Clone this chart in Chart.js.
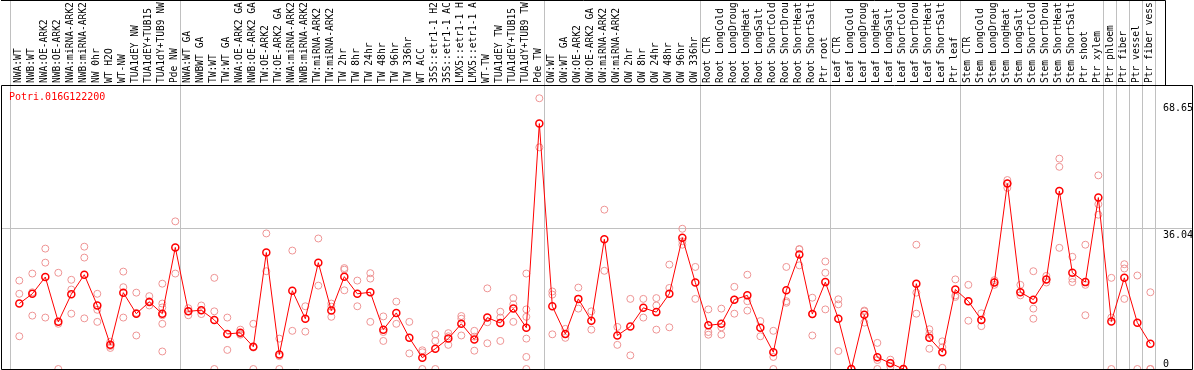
<!DOCTYPE html>
<html>
<head>
<meta charset="utf-8">
<script src="https://cdn.jsdelivr.net/npm/chart.js@4.4.1/dist/chart.umd.min.js"></script>
<style>
  html, body { margin: 0; padding: 0; background: #fff; }
</style>
</head>
<body>
<canvas id="chart" width="1194" height="370"></canvas>
<script>
// gene shown in the corner
const geneId = 'Potri.016G122200';

// sample names, as printed (cut to fit the header)
const sampleLabels = [
    'NWA:WT', 'NWB:WT', 'NWA:OE-ARK2', 'NWB:OE-ARK2', 'NWA:miRNA-ARK2', 'NWB:miRNA-ARK2',
    'NW 0hr', 'WT H2O', 'WT-NW', 'TUA1dEY NW', 'TUA1dEY+TUB15', 'TUA1dY+TUB9 NW', 'Pde NW',
    'NWA:WT GA', 'NWBWT GA', 'TW:WT', 'TW:WT GA', 'NWA:OE-ARK2 GA', 'NWB:OE-ARK2 GA',
    'TW:OE-ARK2', 'TW:OE-ARK2 GA', 'NWA:miRNA-ARK2', 'NWB:miRNA-ARK2', 'TW:miRNA-ARK2',
    'TW:miRNA-ARK2', 'TW 2hr', 'TW 8hr', 'TW 24hr', 'TW 48hr', 'TW 96hr', 'TW 336hr',
    'WT ACC', '35S::etr1-1 H2', '35S::etr1-1 AC', 'LMX5::etr1-1 H', 'LMX5::etr1-1 A',
    'WT-TW', 'TUA1dEY TW', 'TUA1dEY+TUB15', 'TUA1dY+TUB9 TW', 'Pde TW',
    'OW:WT', 'OW:WT GA', 'OW:OE-ARK2', 'OW:OE-ARK2 GA', 'OW:miRNA-ARK2', 'OW:miRNA-ARK2',
    'OW 2hr', 'OW 8hr', 'OW 24hr', 'OW 48hr', 'OW 96hr', 'OW 336hr',
    'Root CTR', 'Root LongCold', 'Root LongDroug', 'Root LongHeat', 'Root LongSalt',
    'Root ShortCold', 'Root ShortDrou', 'Root ShortHeat', 'Root ShortSalt', 'Ptr root',
    'Leaf CTR', 'Leaf LongCold', 'Leaf LongDroug', 'Leaf LongHeat', 'Leaf LongSalt',
    'Leaf ShortCold', 'Leaf ShortDrou', 'Leaf ShortHeat', 'Leaf ShortSalt', 'Ptr leaf',
    'Stem CTR', 'Stem LongCold', 'Stem LongDroug', 'Stem LongHeat', 'Stem LongSalt',
    'Stem ShortCold', 'Stem ShortDrou', 'Stem ShortHeat', 'Stem ShortSalt', 'Ptr shoot', 'Ptr xylem',
    'Ptr phloem', 'Ptr fiber', 'Ptr vessel', 'Ptr fiber vess'
];

// how many samples sit in each separated block
const groupSizes = [13, 28, 12, 10, 10, 11, 1, 1, 1, 1];

// mean expression per sample
const meanValues = [
    16.8, 19.3, 23.6, 12.1, 19.2, 24.2, 16.3, 6.2, 19.6, 14.2, 17.2, 14.2, 31.2,
    14.8, 15.1, 12.6, 9.0, 9.3, 5.7, 29.9, 3.7, 20.1, 12.9, 27.3, 15.0, 23.7, 19.3,
    19.7, 10.1, 14.4, 8.0, 2.9, 5.2, 7.8, 11.6, 7.6, 13.2, 11.8, 15.5, 10.6, 63.0,
    16.1, 9.0, 18.0, 12.4, 33.3, 8.6, 10.9, 15.7, 14.6, 19.3, 33.7, 22.2,
    11.2, 11.6, 17.8, 18.9, 10.6, 4.3, 20.2, 29.4, 14.1, 22.3,
    12.9, 0, 13.9, 3.0, 1.5, 0, 21.9, 8.0, 4.3, 20.4,
    17.4, 12.6, 22.2, 47.6, 19.7, 17.8, 23.0, 45.7, 24.7, 22.3, 44.0,
    12.2, 23.4, 11.9, 6.5
];

// single replicates per sample
const replicateValues = [
    [22.7, 19.3, 8.4], [24.5, 13.7, 19.7], [30.9, 27.3, 13.2], [24.7, 0, 11.6],
    [22.9, 20.4, 14.2], [31.4, 28.6, 13.0], [19.3, 15.2, 12.1], [7.0, 5.9, 5.4],
    [25.0, 21.0, 13.2], [19.6, 8.6, 14.4], [18.7, 17.4, 16.3],
    [21.9, 16.8, 15.8, 13.8, 11.6, 4.5], [37.9, 24.5],
    [15.6, 14.8, 13.8], [16.3, 15.1, 14.1], [23.4, 14.8, 0], [13.2, 9.0, 4.9],
    [10.1, 9.0, 8.8], [11.6, 5.5, 0], [34.8, 25.1], [7.8, 3.3, 0], [30.4, 9.8],
    [16.1, 9.6], [33.5, 21.4], [16.8, 16.0, 13.4], [25.9, 25.5, 20.2], [22.7, 16.1],
    [24.6, 23.2, 12.1], [13.5, 9.5, 7.2], [17.3, 11.6], [12.1, 4.0], [4.8, 4.3, 0],
    [8.9, 7.2, 0], [9.2, 8.4, 6.2], [13.6, 12.9, 8.6], [9.8, 8.3, 4.7],
    [20.7, 12.0, 6.6], [14.7, 13.2, 7.2], [18.2, 16.6, 12.1],
    [24.5, 15.3, 13.4, 7.8, 3.1, 0], [69.5, 56.9],
    [19.9, 19.1, 8.9], [10.3, 9.0, 8.0], [20.9, 18.0, 15.5], [14.8, 10.1], [40.9, 25.2],
    [10.8, 6.2], [18.0, 3.5], [18.0, 13.2], [18.2, 16.3, 10.1], [26.8, 20.8, 10.7],
    [36.0, 32.8, 31.9], [26.2, 18.0],
    [15.3, 9.5, 8.8], [15.5, 10.7, 8.8], [21.1, 17.8, 14.2], [24.2, 17.4, 15.0],
    [12.3, 8.4], [9.8, 3.1, 0], [26.2, 17.4, 17.0], [30.7, 30.8, 26.6],
    [18.3, 14.1, 8.6], [27.6, 24.7, 15.3],
    [17.9, 16.6, 4.6], [0, 0, 0], [15.0, 14.8, 11.9], [6.7, 2.3, 0], [2.4, 1.6, 0.6],
    [0, 0, 0], [31.9, 19.6, 14.2], [10.2, 9.0, 5.2], [7.1, 5.6, 0.3], [23.0, 18.9, 18.5],
    [21.6, 17.4, 12.4], [14.3, 12.6, 11.0], [22.8, 22.3, 21.6], [48.5, 47.6, 46.5],
    [21.6, 19.7, 18.9], [25.1, 15.5, 12.9], [23.9, 23.0, 22.2], [54.0, 51.9, 31.1],
    [28.8, 23.2, 22.3], [31.9, 21.6, 13.8], [49.7, 42.3, 39.6],
    [23.4, 13.2, 0], [26.9, 25.8, 18.0], [24.0, 0], [19.7, 0, 0]
];

// right hand value labels
const yTicks = [0, 36.04, 68.65];

const monoFont = "'DejaVu Sans Mono', monospace";
const xMin = -1.408;
const xMax = 90.28;

const meanPoints = meanValues.map((v, i) => ({ x: i, y: v }));
const repPoints = [];
replicateValues.forEach((reps, i) => {
    reps.forEach(v => repPoints.push({ x: i, y: v }));
});

// block separators, header frame, gene name and value labels
const decorations = {
    id: 'decorations',
    beforeDraw(chart) {
        const { ctx, chartArea: a, scales: { x } } = chart;
        ctx.save();
        ctx.strokeStyle = '#c0c0c0';
        ctx.lineWidth = 1;
        const bounds = [-0.7];
        let end = -1;
        groupSizes.forEach(n => { end += n; bounds.push(end + 0.38); });
        bounds.forEach(v => {
            const px = Math.round(x.getPixelForValue(v)) + 0.5;
            ctx.beginPath();
            ctx.moveTo(px, 0);
            ctx.lineTo(px, a.bottom);
            ctx.stroke();
        });
        ctx.restore();
    },
    afterDraw(chart) {
        const { ctx, chartArea: a, scales: { y } } = chart;
        ctx.save();
        ctx.strokeStyle = '#000';
        ctx.lineWidth = 1;
        ctx.beginPath();
        // plot frame
        ctx.moveTo(a.left + 0.5, a.top + 0.5);
        ctx.lineTo(a.right - 0.5, a.top + 0.5);
        ctx.lineTo(a.right - 0.5, a.bottom + 0.5);
        ctx.lineTo(a.left + 0.5, a.bottom + 0.5);
        ctx.closePath();
        // header frame
        ctx.moveTo(a.left, 0.5);
        ctx.lineTo(1165.5, 0.5);
        ctx.lineTo(1165.5, a.top);
        ctx.stroke();

        ctx.font = '10px ' + monoFont;
        ctx.textBaseline = 'top';
        ctx.textAlign = 'left';
        ctx.fillStyle = '#ff0000';
        ctx.fillText(geneId, a.left + 8, a.top + 7);

        ctx.fillStyle = '#000';
        yTicks.forEach(v => {
            const py = Math.min(y.getPixelForValue(v), a.bottom - 12);
            ctx.fillText(String(v), 1163, py + 2);
        });
        ctx.restore();
    }
};

new Chart(document.getElementById('chart'), {
    data: {
        datasets: [
            {
                type: 'line',
                label: 'mean',
                data: meanPoints,
                borderColor: '#ff0000',
                borderWidth: 1,
                pointRadius: 3.5,
                pointBorderWidth: 1.5,
                pointBorderColor: '#ff0000',
                pointBackgroundColor: 'rgba(0,0,0,0)',
                tension: 0,
                clip: 1,
                order: 0
            },
            {
                type: 'scatter',
                label: 'replicates',
                data: repPoints,
                borderColor: '#ee9494',
                borderWidth: 1,
                pointRadius: 3.5,
                backgroundColor: 'rgba(0,0,0,0)',
                clip: 1,
                order: 1
            }
        ]
    },
    options: {
        responsive: false,
        animation: false,
        devicePixelRatio: 1,
        layout: { autoPadding: false, padding: { left: 1, bottom: 1, top: 0, right: 0 } },
        plugins: {
            legend: { display: false },
            tooltip: { enabled: false }
        },
        scales: {
            x: {
                type: 'linear',
                display: false,
                min: xMin,
                max: xMax
            },
            x2: {
                type: 'linear',
                position: 'top',
                min: xMin,
                max: xMax,
                afterBuildTicks: s => { s.ticks = sampleLabels.map((_, i) => ({ value: i })); },
                afterFit: s => {
                    s.height = 85;
                    s.paddingLeft = 0;
                    s.paddingRight = 0;
                },
                grid: { display: false, drawTicks: false },
                border: { display: false },
                ticks: {
                    autoSkip: false,
                    minRotation: 90,
                    maxRotation: 90,
                    padding: 2,
                    labelOffset: 10.5,
                    color: '#000',
                    font: { family: monoFont, size: 9.6 },
                    callback: (v, i) => sampleLabels[i]
                }
            },
            y: {
                type: 'linear',
                position: 'right',
                min: 0,
                max: 72.9,
                afterBuildTicks: s => { s.ticks = yTicks.map(v => ({ value: v })); },
                afterFit: s => {
                    s.width = 1;
                    s.paddingTop = 0;
                    s.paddingBottom = 0;
                },
                border: { display: false },
                ticks: { display: false },
                grid: {
                    drawTicks: false,
                    color: c => (c.tick && c.tick.value === 36.04) ? '#c0c0c0' : 'rgba(0,0,0,0)'
                }
            }
        }
    },
    plugins: [decorations]
});
</script>
</body>
</html>
